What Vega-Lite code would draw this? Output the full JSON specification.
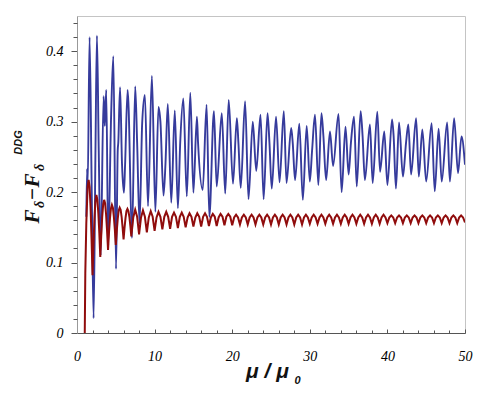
{
 "$schema": "https://vega.github.io/schema/vega-lite/v6.json",
 "width": 388, "height": 317,
 "autosize": {"type": "none"},
 "padding": {"left": 77, "top": 16, "right": 14, "bottom": 63},
 "background": "white",
 "config": {
  "view": {"stroke": "#c4c4c4", "strokeWidth": 1},
  "axis": {"grid": false, "tickColor": "#555", "titleColor": "#111", "titleFont": "Liberation Serif", "titleFontStyle": "italic", "titleFontWeight": "bold", "labelFont": "Liberation Serif", "labelFontStyle": "italic", "labelFontSize": 14, "labelColor": "#000"}
 },
 "datasets": {
  "blue": [
   {"x":1.2,"y":0.165},{"x":1.3,"y":0.233},{"x":1.38,"y":0.21},{"x":1.62,"y":0.42},{"x":1.9,"y":0.2},{"x":2.14,"y":0.021},{"x":2.38,"y":0.26},{"x":2.57,"y":0.422},{"x":2.8,"y":0.26},{"x":3.05,"y":0.11},
   {"x":3.43,"y":0.336},{"x":3.58,"y":0.294},{"x":3.77,"y":0.345},{"x":4.02,"y":0.125},{"x":4.4,"y":0.31},{"x":4.68,"y":0.393},{"x":5.03,"y":0.091},{"x":5.25,"y":0.26},{"x":5.32,"y":0.27},{"x":5.55,"y":0.349},
   {"x":5.8,"y":0.24},{"x":6.05,"y":0.199},{"x":6.2,"y":0.24},{"x":6.52,"y":0.345},{"x":6.65,"y":0.32},{"x":7.08,"y":0.135},{"x":7.5,"y":0.35},{"x":7.75,"y":0.27},{"x":8.06,"y":0.155},{"x":8.4,"y":0.298},
   {"x":8.75,"y":0.338},{"x":9.15,"y":0.18},{"x":9.65,"y":0.365},{"x":10.1,"y":0.172},{"x":10.5,"y":0.321},{"x":10.75,"y":0.3},{"x":11.15,"y":0.195},{"x":11.4,"y":0.24},{"x":11.7,"y":0.325},{"x":12.15,"y":0.185},
   {"x":12.6,"y":0.316},{"x":13.0,"y":0.177},{"x":13.3,"y":0.27},{"x":13.7,"y":0.333},{"x":14.15,"y":0.194},{"x":14.6,"y":0.341},{"x":15.0,"y":0.199},{"x":15.45,"y":0.307},{"x":15.6,"y":0.27},{"x":16.2,"y":0.203},
   {"x":16.7,"y":0.324},{"x":17.05,"y":0.165},{"x":17.65,"y":0.315},{"x":18.0,"y":0.208},{"x":18.66,"y":0.312},{"x":19.1,"y":0.198},{"x":19.55,"y":0.331},{"x":20.1,"y":0.212},{"x":20.6,"y":0.305},{"x":20.8,"y":0.27},
   {"x":21.1,"y":0.206},{"x":21.66,"y":0.329},{"x":22.1,"y":0.19},{"x":22.65,"y":0.3},{"x":23.1,"y":0.23},{"x":23.65,"y":0.31},{"x":24.05,"y":0.19},{"x":24.55,"y":0.312},{"x":24.8,"y":0.27},{"x":25.1,"y":0.205},
   {"x":25.65,"y":0.307},{"x":26.1,"y":0.214},{"x":26.65,"y":0.315},{"x":27.0,"y":0.213},{"x":27.6,"y":0.291},{"x":27.8,"y":0.27},{"x":28.1,"y":0.217},{"x":28.65,"y":0.297},{"x":29.1,"y":0.189},{"x":29.6,"y":0.294},
   {"x":30.0,"y":0.215},{"x":30.3,"y":0.26},{"x":30.67,"y":0.31},{"x":31.1,"y":0.21},{"x":31.5,"y":0.312},{"x":31.75,"y":0.28},{"x":32.1,"y":0.217},{"x":32.6,"y":0.286},{"x":33.0,"y":0.237},{"x":33.7,"y":0.311},
   {"x":34.1,"y":0.2},{"x":34.6,"y":0.293},{"x":35.0,"y":0.225},{"x":35.3,"y":0.27},{"x":35.7,"y":0.307},{"x":36.05,"y":0.208},{"x":36.55,"y":0.315},{"x":36.8,"y":0.28},{"x":37.1,"y":0.217},{"x":37.75,"y":0.296},
   {"x":38.1,"y":0.213},{"x":38.7,"y":0.314},{"x":39.05,"y":0.229},{"x":39.6,"y":0.286},{"x":40.0,"y":0.21},{"x":40.6,"y":0.303},{"x":40.8,"y":0.28},{"x":41.1,"y":0.205},{"x":41.5,"y":0.299},{"x":42.0,"y":0.222},
   {"x":42.4,"y":0.27},{"x":42.7,"y":0.296},{"x":43.05,"y":0.225},{"x":43.7,"y":0.305},{"x":44.05,"y":0.222},{"x":44.5,"y":0.289},{"x":45.0,"y":0.215},{"x":45.7,"y":0.298},{"x":46.1,"y":0.201},{"x":46.6,"y":0.29},
   {"x":47.0,"y":0.215},{"x":47.7,"y":0.299},{"x":48.05,"y":0.215},{"x":48.6,"y":0.305},{"x":49.1,"y":0.227},{"x":49.55,"y":0.279},{"x":50.0,"y":0.239}
  ],
  "red": [
   {"x":1.0,"y":0},{"x":1.07,"y":0.085},{"x":1.2,"y":0.156},{"x":1.37,"y":0.208},{"x":1.5,"y":0.2175},{"x":1.625,"y":0.207},{"x":1.75,"y":0.178},{"x":1.875,"y":0.134},
   {"x":2,"y":0.082},{"x":2.125,"y":0.126},{"x":2.25,"y":0.163},{"x":2.375,"y":0.187},{"x":2.5,"y":0.196},{"x":2.625,"y":0.189},{"x":2.75,"y":0.17},{"x":2.875,"y":0.142},
   {"x":3,"y":0.108},{"x":3.125,"y":0.139},{"x":3.25,"y":0.165},{"x":3.375,"y":0.183},{"x":3.5,"y":0.189},{"x":3.625,"y":0.184},{"x":3.75,"y":0.168},{"x":3.875,"y":0.145},
   {"x":4,"y":0.118},{"x":4.125,"y":0.143},{"x":4.25,"y":0.163},{"x":4.375,"y":0.177},{"x":4.5,"y":0.182},{"x":4.625,"y":0.178},{"x":4.75,"y":0.165},{"x":4.875,"y":0.147},
   {"x":5,"y":0.125},{"x":5.125,"y":0.145},{"x":5.25,"y":0.162},{"x":5.375,"y":0.174},{"x":5.5,"y":0.178},{"x":5.625,"y":0.175},{"x":5.75,"y":0.165},{"x":5.875,"y":0.15},
   {"x":6,"y":0.133},{"x":6.125,"y":0.149},{"x":6.25,"y":0.163},{"x":6.375,"y":0.173},{"x":6.5,"y":0.176},{"x":6.625,"y":0.173},{"x":6.75,"y":0.165},{"x":6.875,"y":0.152},
   {"x":7,"y":0.137},{"x":7.25,"y":0.164},{"x":7.5,"y":0.175},{"x":7.75,"y":0.165},
   {"x":8,"y":0.14},{"x":8.25,"y":0.164},{"x":8.5,"y":0.174},{"x":8.75,"y":0.165},
   {"x":9,"y":0.143},{"x":9.25,"y":0.164},{"x":9.5,"y":0.173},{"x":9.75,"y":0.165},
   {"x":10,"y":0.145},{"x":10.25,"y":0.164},{"x":10.5,"y":0.172},{"x":10.75,"y":0.165},
   {"x":11,"y":0.147},{"x":11.25,"y":0.165},{"x":11.5,"y":0.172},{"x":11.75,"y":0.165},
   {"x":12,"y":0.148},{"x":12.25,"y":0.165},{"x":12.5,"y":0.171},{"x":12.75,"y":0.165},
   {"x":13,"y":0.149},{"x":13.25,"y":0.165},{"x":13.5,"y":0.171},{"x":13.75,"y":0.165},
   {"x":14,"y":0.15},{"x":14.25,"y":0.164},{"x":14.5,"y":0.17},{"x":14.75,"y":0.165},
   {"x":15,"y":0.151},{"x":15.25,"y":0.164},{"x":15.5,"y":0.17},{"x":15.75,"y":0.165},
   {"x":16,"y":0.151},{"x":16.25,"y":0.165},{"x":16.5,"y":0.17},{"x":16.75,"y":0.165},
   {"x":17,"y":0.152},{"x":17.25,"y":0.164},{"x":17.5,"y":0.169},{"x":17.75,"y":0.165},
   {"x":18,"y":0.152},{"x":18.25,"y":0.164},{"x":18.5,"y":0.169},{"x":18.75,"y":0.165},
   {"x":19,"y":0.153},{"x":19.25,"y":0.165},{"x":19.5,"y":0.169},{"x":19.75,"y":0.165},
   {"x":20,"y":0.153},{"x":20.25,"y":0.164},{"x":20.5,"y":0.168},{"x":20.75,"y":0.164},
   {"x":21,"y":0.154},{"x":21.25,"y":0.164},{"x":21.5,"y":0.168},{"x":21.75,"y":0.164},
   {"x":22,"y":0.154},{"x":22.25,"y":0.164},{"x":22.5,"y":0.168},{"x":22.75,"y":0.164},
   {"x":23,"y":0.154},{"x":23.25,"y":0.164},{"x":23.5,"y":0.168},{"x":23.75,"y":0.164},
   {"x":24,"y":0.154},{"x":24.25,"y":0.164},{"x":24.5,"y":0.168},{"x":24.75,"y":0.164},
   {"x":25,"y":0.154},{"x":25.25,"y":0.164},{"x":25.5,"y":0.168},{"x":25.75,"y":0.164},
   {"x":26,"y":0.154},{"x":26.25,"y":0.164},{"x":26.5,"y":0.168},{"x":26.75,"y":0.164},
   {"x":27,"y":0.154},{"x":27.25,"y":0.164},{"x":27.5,"y":0.168},{"x":27.75,"y":0.164},
   {"x":28,"y":0.154},{"x":28.25,"y":0.164},{"x":28.5,"y":0.168},{"x":28.75,"y":0.164},
   {"x":29,"y":0.154},{"x":29.25,"y":0.164},{"x":29.5,"y":0.168},{"x":29.75,"y":0.164},
   {"x":30,"y":0.155},{"x":30.25,"y":0.164},{"x":30.5,"y":0.168},{"x":30.75,"y":0.164},
   {"x":31,"y":0.155},{"x":31.25,"y":0.164},{"x":31.5,"y":0.168},{"x":31.75,"y":0.164},
   {"x":32,"y":0.155},{"x":32.25,"y":0.164},{"x":32.5,"y":0.168},{"x":32.75,"y":0.164},
   {"x":33,"y":0.155},{"x":33.25,"y":0.164},{"x":33.5,"y":0.168},{"x":33.75,"y":0.164},
   {"x":34,"y":0.155},{"x":34.25,"y":0.164},{"x":34.5,"y":0.168},{"x":34.75,"y":0.164},
   {"x":35,"y":0.155},{"x":35.25,"y":0.164},{"x":35.5,"y":0.168},{"x":35.75,"y":0.164},
   {"x":36,"y":0.155},{"x":36.25,"y":0.164},{"x":36.5,"y":0.168},{"x":36.75,"y":0.164},
   {"x":37,"y":0.155},{"x":37.25,"y":0.164},{"x":37.5,"y":0.168},{"x":37.75,"y":0.164},
   {"x":38,"y":0.155},{"x":38.25,"y":0.164},{"x":38.5,"y":0.168},{"x":38.75,"y":0.164},
   {"x":39,"y":0.155},{"x":39.25,"y":0.164},{"x":39.5,"y":0.168},{"x":39.75,"y":0.164},
   {"x":40,"y":0.156},{"x":40.25,"y":0.164},{"x":40.5,"y":0.167},{"x":40.75,"y":0.164},
   {"x":41,"y":0.156},{"x":41.25,"y":0.164},{"x":41.5,"y":0.167},{"x":41.75,"y":0.164},
   {"x":42,"y":0.156},{"x":42.25,"y":0.164},{"x":42.5,"y":0.167},{"x":42.75,"y":0.164},
   {"x":43,"y":0.156},{"x":43.25,"y":0.164},{"x":43.5,"y":0.167},{"x":43.75,"y":0.164},
   {"x":44,"y":0.156},{"x":44.25,"y":0.164},{"x":44.5,"y":0.167},{"x":44.75,"y":0.164},
   {"x":45,"y":0.156},{"x":45.25,"y":0.164},{"x":45.5,"y":0.167},{"x":45.75,"y":0.164},
   {"x":46,"y":0.156},{"x":46.25,"y":0.164},{"x":46.5,"y":0.167},{"x":46.75,"y":0.164},
   {"x":47,"y":0.156},{"x":47.25,"y":0.164},{"x":47.5,"y":0.167},{"x":47.75,"y":0.164},
   {"x":48,"y":0.156},{"x":48.25,"y":0.164},{"x":48.5,"y":0.167},{"x":48.75,"y":0.164},
   {"x":49,"y":0.156},{"x":49.25,"y":0.164},{"x":49.5,"y":0.167},{"x":49.75,"y":0.164},
   {"x":50,"y":0.157}
  ],
  "dummy": [{"x":0,"y":0}]
 },
 "resolve": {"axis": {"x": "independent", "y": "independent"}},
 "layer": [
  {
   "data": {"name": "blue"},
   "mark": {"type": "line", "color": "#363b9c", "strokeWidth": 1.9, "interpolate": "monotone", "clip": true},
   "encoding": {
    "x": {"field": "x", "type": "quantitative", "scale": {"domain": [0, 50], "nice": false},
     "axis": {"orient": "bottom", "values": [0,10,20,30,40,50], "ticks": false, "labelPadding": 16, "labelFlush": false, "domainColor": "#555",
      "labelFont": "Liberation Serif", "labelFontStyle": "italic", "labelFontSize": 14, "labelColor": "#000",
      "title": "μ / μ", "titleFont": "Liberation Sans", "titleFontSize": 21, "titleX": 190, "titleY": 38, "titleAlign": "center", "titleBaseline": "middle"}},
    "y": {"field": "y", "type": "quantitative", "scale": {"domain": [0, 0.45], "nice": false},
     "axis": {"orient": "left", "values": [0,0.1,0.2,0.3,0.4], "format": ".1~f", "tickSize": 6, "labelPadding": 8, "domainColor": "#999",
      "labelFont": "Liberation Serif", "labelFontStyle": "italic", "labelFontSize": 14, "labelColor": "#000",
      "title": "F", "titleFontSize": 21, "titleAngle": 270, "titleX": -45, "titleY": 200, "titleAlign": "center", "titleBaseline": "middle"}}
   }
  },
  {
   "data": {"name": "red"},
   "mark": {"type": "line", "color": "#900c0c", "strokeWidth": 2, "clip": true},
   "encoding": {
    "x": {"field": "x", "type": "quantitative", "scale": {"domain": [0, 50], "nice": false},
     "axis": {"orient": "bottom", "values": [2,4,6,8,12,14,16,18,22,24,26,28,32,34,36,38,42,44,46,48], "tickSize": -3, "labels": false, "domain": false,
      "title": "0", "titleFont": "Liberation Sans", "titleFontSize": 11, "titleX": 220, "titleY": 47, "titleAlign": "center", "titleBaseline": "middle"}},
    "y": {"field": "y", "type": "quantitative", "scale": {"domain": [0, 0.45], "nice": false},
     "axis": {"orient": "left", "values": [0.02,0.04,0.06,0.08,0.12,0.14,0.16,0.18,0.22,0.24,0.26,0.28,0.32,0.34,0.36,0.38,0.42,0.44], "tickSize": 4, "labels": false, "domain": false,
      "title": "δ", "titleFontSize": 14, "titleAngle": 270, "titleX": -38, "titleY": 188, "titleAlign": "center", "titleBaseline": "middle"}}
   }
  },
  {
   "data": {"name": "dummy"},
   "mark": {"type": "point", "opacity": 0},
   "encoding": {
    "x": {"field": "x", "type": "quantitative", "scale": {"domain": [0, 50], "nice": false},
     "axis": {"orient": "bottom", "values": [0,10,20,30,40,50], "tickSize": -4, "labels": false, "domain": false, "title": null}},
    "y": {"field": "y", "type": "quantitative", "scale": {"domain": [0, 0.45], "nice": false},
     "axis": {"orient": "left", "ticks": false, "labels": false, "domain": false,
      "title": "−", "titleFontSize": 21, "titleAngle": 270, "titleX": -45, "titleY": 178, "titleAlign": "center", "titleBaseline": "middle"}}
   }
  },
  {
   "data": {"name": "dummy"},
   "mark": {"type": "point", "opacity": 0},
   "encoding": {
    "x": {"field": "x", "type": "quantitative", "scale": {"domain": [0, 50], "nice": false}, "axis": null},
    "y": {"field": "y", "type": "quantitative", "scale": {"domain": [0, 0.45], "nice": false},
     "axis": {"orient": "left", "ticks": false, "labels": false, "domain": false,
      "title": "F", "titleFontSize": 21, "titleAngle": 270, "titleX": -45, "titleY": 164, "titleAlign": "center", "titleBaseline": "middle"}}
   }
  },
  {
   "data": {"name": "dummy"},
   "mark": {"type": "point", "opacity": 0},
   "encoding": {
    "x": {"field": "x", "type": "quantitative", "scale": {"domain": [0, 50], "nice": false}, "axis": null},
    "y": {"field": "y", "type": "quantitative", "scale": {"domain": [0, 0.45], "nice": false},
     "axis": {"orient": "left", "ticks": false, "labels": false, "domain": false,
      "title": "δ", "titleFontSize": 14, "titleAngle": 270, "titleX": -38, "titleY": 151, "titleAlign": "center", "titleBaseline": "middle"}}
   }
  },
  {
   "data": {"name": "dummy"},
   "mark": {"type": "point", "opacity": 0},
   "encoding": {
    "x": {"field": "x", "type": "quantitative", "scale": {"domain": [0, 50], "nice": false}, "axis": null},
    "y": {"field": "y", "type": "quantitative", "scale": {"domain": [0, 0.45], "nice": false},
     "axis": {"orient": "left", "ticks": false, "labels": false, "domain": false,
      "title": "DDG", "titleFont": "Liberation Sans", "titleFontSize": 11, "titleAngle": 270, "titleX": -59, "titleY": 126, "titleAlign": "center", "titleBaseline": "middle"}}
   }
  }
 ]
}
